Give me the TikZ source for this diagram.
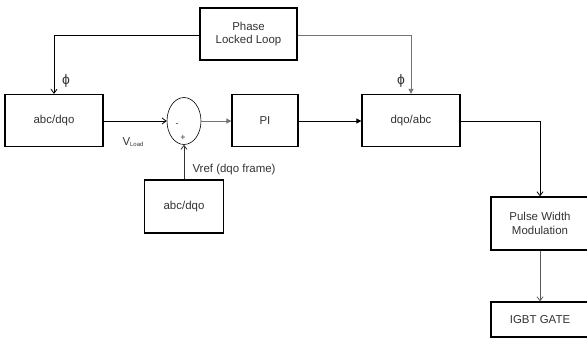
\documentclass[tikz,border=0pt]{standalone}
\usepackage{fontspec}
\setmainfont{Liberation Sans}
\usetikzlibrary{arrows.meta,positioning,shapes.geometric,calc}
\tikzset{
  blk/.style={draw, line width=1.3pt, align=center, fill=white, font=\fontsize{11.5}{13.5}\selectfont, text=black!80},
  sumnode/.style={draw, ellipse, line width=0.6pt, minimum width=34bp, minimum height=47bp, inner sep=0pt},
  arr/.style={-{Straight Barb[length=4bp, width=6bp]}, line width=0.8pt},
  garr/.style={-{Triangle[length=5bp, width=5bp, fill=black!55]}, line width=0.8pt, draw=black!55},
  lbl/.style={font=\fontsize{11.5}{13.5}\selectfont, text=black!80},
}

\begin{document}
\begin{tikzpicture}[x=1bp, y=-1bp]
\useasboundingbox (0,0) rectangle (587,340);
% blocks
\node[blk, minimum width=97bp, minimum height=52bp] (pll) at (248.5,34) {Phase\\Locked Loop};
\node[blk, minimum width=98bp, minimum height=52bp] (abcL) at (54,120.5) {abc/dqo};
\node[sumnode] (sum) at (184,121) {};
\node[blk, minimum width=66bp, minimum height=52bp] (pi) at (265,120.5) {PI};
\node[blk, minimum width=98bp, minimum height=52bp] (dqo) at (411,120.5) {dqo/abc};
\node[blk, minimum width=79bp, minimum height=53bp] (abcB) at (184,206.5) {abc/dqo};
\node[blk, minimum width=98bp, minimum height=53bp] (pwm) at (540,223.5) {Pulse Width\\Modulation};
\node[blk, minimum width=98bp, minimum height=35bp] (igbt) at (540,319.5) {IGBT GATE};
% signs in the summing point
\node[lbl, font=\fontsize{9}{10}\selectfont] (minus) at (177,125) {-};
\node[lbl, font=\fontsize{9}{10}\selectfont] (plus) at (183,138) {+};
% connectors
\draw[arr] (pll.west |- 0,35) -| (abcL.north);
\draw[garr] (pll.east |- 0,35) -| (dqo.north);
\draw[arr] (abcL.east |- sum.west) -- (sum.west);
\draw[garr] (sum.east) -- (pi.west |- sum.east);
\draw[-{Triangle[length=5bp, width=5bp]}, line width=0.8pt] (pi.east |- sum.east) -- (dqo.west |- sum.east);
\draw[arr, draw=black!80] (abcB.north) -- (sum.south);
\draw[arr] (dqo.east |- sum.east) -| (pwm.north);
\draw[arr, draw=black!65] (pwm.south) -- (igbt.north);
% labels
\node[lbl, font=\fontsize{14}{16}\selectfont] (phiL) at (66,81) {ϕ};
\node[lbl, font=\fontsize{14}{16}\selectfont] (phiR) at (401,81) {ϕ};
\node[lbl, anchor=west] (vload) at (119,142) {V\textsubscript{\fontsize{6}{7}\selectfont Load}};
\node[lbl, anchor=west] (vref) at (189,170) {Vref (dqo frame)};
\end{tikzpicture}
\end{document}
